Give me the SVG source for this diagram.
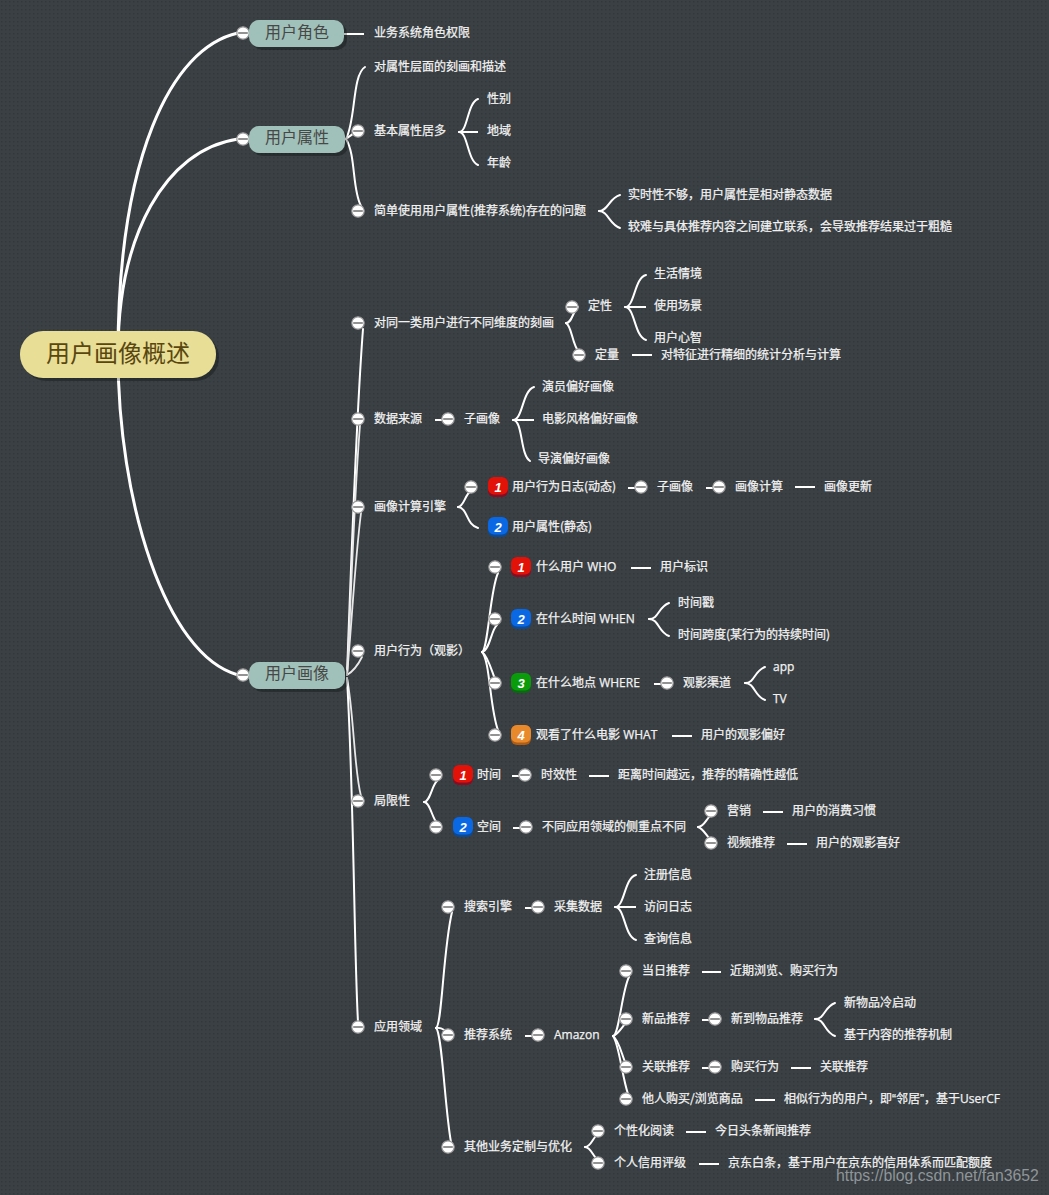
<svg xmlns="http://www.w3.org/2000/svg" xmlns:xlink="http://www.w3.org/1999/xlink" width="1049" height="1195" viewBox="0 0 1049 1195">
<style>
text{font-family:"Noto Sans CJK SC","Noto Sans",sans-serif}
.t{font-size:12px;fill:#f2f2f2;stroke:#f2f2f2;stroke-width:.25px}
.h{font-size:16px;fill:#484848}
.r{font-size:24px;fill:#5a4710}
.c{fill:none;stroke:#fff;stroke-width:2;stroke-linecap:round}
.m{fill:none;stroke:#fff;stroke-width:3;stroke-linecap:round}
.d{fill:none;stroke:#e8e8e8;stroke-width:1.8;stroke-linecap:round}
.l{fill:none;stroke:#fff;stroke-width:2}
.s{fill:#000;fill-opacity:.28}
.b1{fill:#a0c1b9}
.n{font:italic bold 13px "Liberation Sans",sans-serif;fill:#fff;text-anchor:middle}
.o{font-family:"Open Sans",sans-serif}
.q{font-family:"Liberation Sans",sans-serif}
</style>
<defs>
<pattern id="dots" width="4" height="4" patternUnits="userSpaceOnUse"><rect width="4" height="4" fill="#3a4044"/><rect x="1" y="1" width="1.5" height="1.5" fill="#32383c"/></pattern>
<g id="btn"><circle r="6.200" fill="#fff" stroke="#999" stroke-width="1.200"/><rect x="-4.800" y="-.7" width="9.600" height="1.400" fill="#666"/></g>
<g id="i1"><rect x="-10" y="-10" width="20" height="20" rx="6" fill="#8a0c22"/><rect x="-10" y="-10" width="20" height="17.500" rx="6" fill="#e21208"/><text class="n" y="5">1</text></g>
<g id="i2"><rect x="-10" y="-10" width="20" height="20" rx="6" fill="#0c4a94"/><rect x="-10" y="-10" width="20" height="17.500" rx="6" fill="#0a68e4"/><text class="n" y="5">2</text></g>
<g id="i3"><rect x="-10" y="-10" width="20" height="20" rx="6" fill="#0a6a10"/><rect x="-10" y="-10" width="20" height="17.500" rx="6" fill="#0a9c0a"/><text class="n" y="5">3</text></g>
<g id="i4"><rect x="-10" y="-10" width="20" height="20" rx="6" fill="#b05c14"/><rect x="-10" y="-10" width="20" height="17.500" rx="6" fill="#e88a2c"/><text class="n" y="5">4</text></g>
</defs>
<rect width="1049" height="1195" fill="url(#dots)"/>
<g id="connectors">
<path class="m" d="M118 354C118 160 170 48 238 33"/>
<path class="m" d="M118 354C118 235 165 150 238 139"/>
<path class="m" d="M118 354C118 500 165 655 238 675"/>
<path class="l" d="M344 34H364"/>
<path class="c" d="M346 139C356 120 352 75 365 67"/>
<path class="c" d="M346 139C350 136 352 134 358 131"/>
<path class="c" d="M346 139C356 155 352 190 361 206"/>
<path class="c" d="M459 132C468 132 467 103 478 99"/><path class="l" d="M459 132H478"/><path class="c" d="M459 132C468 132 467 160 478 165"/>
<path class="c" d="M599 211C608 211 609 198 620 195"/><path class="c" d="M599 211C608 211 609 224 620 228"/>
<path class="c" d="M347 675C352 540 356 420 363 329"/>
<path class="d" d="M347 675C351 600 354 500 360 425"/>
<path class="d" d="M347 675C352 620 355 560 361 513"/>
<path class="d" d="M347 675C352 672 358 665 362 657"/>
<path class="d" d="M347 678C354 715 354 770 361 796"/>
<path class="c" d="M347 678C354 800 354 950 358 1022"/>
<path class="c" d="M566 323C572 323 572 313 578 307"/><path class="c" d="M566 323C572 326 572 345 579 352"/>
<path class="c" d="M625 307C635 307 634 278 646 275"/><path class="l" d="M625 307H646"/><path class="c" d="M625 307C635 307 634 336 646 340"/>
<path class="l" d="M632 355H652"/>
<path class="l" d="M435 420H443"/>
<path class="c" d="M513 420C523 420 522 391 534 387"/><path class="l" d="M513 420H534"/><path class="c" d="M513 420C523 420 520 455 530 461"/>
<path class="c" d="M458 507C464 507 465 494 471 491"/><path class="c" d="M458 507C468 508 466 525 478 528"/>
<path class="l" d="M628 488H636M706 488H713M795 487H815"/>
<path class="c" d="M482 652C488 650 490 590 498 573"/>
<path class="c" d="M482 652C490 650 491 630 497 625"/>
<path class="c" d="M482 652C488 656 492 672 495 679"/>
<path class="c" d="M482 652C490 660 490 710 498 730"/>
<path class="l" d="M631 568H651"/>
<path class="c" d="M649 619C659 619 658 607 669 603"/><path class="c" d="M649 619C659 619 658 632 669 636"/>
<path class="l" d="M654 684H662"/>
<path class="c" d="M745 683C755 683 754 671 765 667"/><path class="c" d="M745 683C755 683 754 696 765 700"/>
<path class="l" d="M672 736H692"/>
<path class="c" d="M424 802C430 802 432 785 437 781"/><path class="c" d="M424 802C430 802 432 818 437 823"/>
<path class="l" d="M512 776H520M589 776H609M513 828H521"/>
<path class="c" d="M698 827C704 827 706 819 711 815"/><path class="c" d="M698 827C704 829 706 836 711 840"/>
<path class="l" d="M763 812H783M787 844H807"/>
<path class="c" d="M436 1028C442 1026 443 950 452 912"/>
<path class="c" d="M436 1028C441 1027 444 1030 448 1032"/>
<path class="c" d="M436 1028C442 1032 445 1110 451 1142"/>
<path class="l" d="M525 908H533"/>
<path class="c" d="M615 907C625 907 624 878 636 875"/><path class="l" d="M615 907H636"/><path class="c" d="M615 907C625 907 624 936 636 940"/>
<path class="l" d="M525 1036H533"/>
<path class="c" d="M613 1036C619 1036 622 990 629 977"/>
<path class="c" d="M613 1036C619 1034 622 1026 627 1022"/>
<path class="c" d="M613 1036C619 1040 622 1056 626 1064"/>
<path class="c" d="M613 1036C619 1044 622 1076 628 1094"/>
<path class="l" d="M702 972H721M702 1020H710M702 1068H710M791 1068H811M755 1100H775"/>
<path class="c" d="M815 1019C825 1019 824 1007 835 1003"/><path class="c" d="M815 1019C825 1019 824 1032 835 1036"/>
<path class="c" d="M585 1147C591 1147 593 1137 598 1134"/><path class="c" d="M585 1147C591 1147 593 1157 598 1160"/>
<path class="l" d="M686 1132H706M699 1164H719"/>
</g>
<g id="root"><rect class="s" x="23" y="334" width="196" height="47" rx="23"/><rect x="20" y="331" width="196" height="47" rx="23" fill="#e8de96"/><text class="r" x="46" y="362">用户画像概述</text></g>
<g id="h1"><use href="#btn" x="243" y="33"/><rect class="s" x="252" y="23" width="95" height="27" rx="10"/><rect class="b1" x="249" y="20" width="95" height="27" rx="10"/><text class="h" x="265" y="38">用户角色</text></g>
<g id="h2"><use href="#btn" x="243" y="139"/><rect class="s" x="252" y="129" width="96" height="27" rx="10"/><rect class="b1" x="249" y="126" width="96" height="27" rx="10"/><text class="h" x="265" y="143">用户属性</text></g>
<g id="h3"><use href="#btn" x="243" y="675"/><rect class="s" x="252" y="665" width="96" height="27" rx="10"/><rect class="b1" x="249" y="662" width="96" height="27" rx="10"/><text class="h" x="265" y="679">用户画像</text></g>
<g id="n1"><text class="t" x="374" y="37">业务系统角色权限</text></g>
<g id="n2"><text class="t" x="374" y="71">对属性层面的刻画和描述</text></g>
<g id="n3"><use href="#btn" x="358" y="131"/><text class="t" x="374" y="135">基本属性居多</text></g>
<g id="n4"><text class="t" x="487" y="103">性别</text></g>
<g id="n5"><text class="t" x="487" y="135">地域</text></g>
<g id="n6"><text class="t" x="487" y="167">年龄</text></g>
<g id="n7"><use href="#btn" x="358" y="211"/><text class="t" x="374" y="215">简单使用用户属性(推荐系统)存在的问题</text></g>
<g id="n8"><text class="t" x="628" y="199">实时性不够，用户属性是相对静态数据</text></g>
<g id="n9"><text class="t" x="628" y="231">较难与具体推荐内容之间建立联系，会导致推荐结果过于粗糙</text></g>
<g id="n10"><use href="#btn" x="358" y="323"/><text class="t" x="374" y="327">对同一类用户进行不同维度的刻画</text></g>
<g id="n11"><use href="#btn" x="572" y="307"/><text class="t" x="588" y="310">定性</text></g>
<g id="n12"><text class="t" x="654" y="278">生活情境</text></g>
<g id="n13"><text class="t" x="654" y="310">使用场景</text></g>
<g id="n14"><text class="t" x="654" y="342">用户心智</text></g>
<g id="n15"><use href="#btn" x="579" y="355"/><text class="t" x="595" y="359">定量</text></g>
<g id="n16"><text class="t" x="661" y="359">对特征进行精细的统计分析与计算</text></g>
<g id="n17"><use href="#btn" x="358" y="419"/><text class="t" x="374" y="423">数据来源</text></g>
<g id="n18"><use href="#btn" x="448" y="419"/><text class="t" x="464" y="423">子画像</text></g>
<g id="n19"><text class="t" x="542" y="391">演员偏好画像</text></g>
<g id="n20"><text class="t" x="542" y="423">电影风格偏好画像</text></g>
<g id="n21"><text class="t" x="538" y="463">导演偏好画像</text></g>
<g id="n22"><use href="#btn" x="358" y="507"/><text class="t" x="374" y="511">画像计算引擎</text></g>
<g id="n23"><use href="#btn" x="471" y="487"/><use href="#i1" x="498" y="487"/><text class="t" x="512" y="491">用户行为日志(动态)</text></g>
<g id="n24"><use href="#btn" x="641" y="487"/><text class="t" x="657" y="491">子画像</text></g>
<g id="n25"><use href="#btn" x="719" y="487"/><text class="t" x="735" y="491">画像计算</text></g>
<g id="n26"><text class="t" x="824" y="491">画像更新</text></g>
<g id="n27"><use href="#i2" x="498" y="527"/><text class="t" x="512" y="531">用户属性(静态)</text></g>
<g id="n28"><use href="#btn" x="358" y="651"/><text class="t" x="374" y="655">用户行为（观影）</text></g>
<g id="n29"><use href="#btn" x="495" y="567"/><use href="#i1" x="521" y="567"/><text class="t" x="536" y="571">什么用户<tspan class="o"> WHO</tspan></text></g>
<g id="n30"><text class="t" x="660" y="571">用户标识</text></g>
<g id="n31"><use href="#btn" x="495" y="619"/><use href="#i2" x="521" y="619"/><text class="t" x="536" y="623">在什么时间<tspan class="o"> WHEN</tspan></text></g>
<g id="n32"><text class="t" x="678" y="607">时间戳</text></g>
<g id="n33"><text class="t" x="678" y="639">时间跨度(某行为的持续时间)</text></g>
<g id="n34"><use href="#btn" x="495" y="683"/><use href="#i3" x="521" y="683"/><text class="t" x="536" y="687">在什么地点<tspan class="o"> WHERE</tspan></text></g>
<g id="n35"><use href="#btn" x="667" y="683"/><text class="t" x="683" y="687">观影渠道</text></g>
<g id="n36"><text class="t o" x="773" y="671">app</text></g>
<g id="n37"><text class="t o" x="773" y="703">TV</text></g>
<g id="n38"><use href="#btn" x="495" y="735"/><use href="#i4" x="521" y="735"/><text class="t" x="536" y="739">观看了什么电影<tspan class="o"> WHAT</tspan></text></g>
<g id="n39"><text class="t" x="701" y="739">用户的观影偏好</text></g>
<g id="n40"><use href="#btn" x="358" y="801"/><text class="t" x="374" y="805">局限性</text></g>
<g id="n41"><use href="#btn" x="436" y="775"/><use href="#i1" x="463" y="775"/><text class="t" x="477" y="779">时间</text></g>
<g id="n42"><use href="#btn" x="525" y="775"/><text class="t" x="541" y="779">时效性</text></g>
<g id="n43"><text class="t" x="618" y="779">距离时间越远，推荐的精确性越低</text></g>
<g id="n44"><use href="#btn" x="436" y="827"/><use href="#i2" x="463" y="827"/><text class="t" x="477" y="831">空间</text></g>
<g id="n45"><use href="#btn" x="526" y="827"/><text class="t" x="542" y="831">不同应用领域的侧重点不同</text></g>
<g id="n46"><use href="#btn" x="711" y="811"/><text class="t" x="727" y="815">营销</text></g>
<g id="n47"><text class="t" x="792" y="815">用户的消费习惯</text></g>
<g id="n48"><use href="#btn" x="711" y="843"/><text class="t" x="727" y="847">视频推荐</text></g>
<g id="n49"><text class="t" x="816" y="847">用户的观影喜好</text></g>
<g id="n50"><use href="#btn" x="358" y="1027"/><text class="t" x="374" y="1031">应用领域</text></g>
<g id="n51"><use href="#btn" x="448" y="907"/><text class="t" x="464" y="911">搜索引擎</text></g>
<g id="n52"><use href="#btn" x="538" y="907"/><text class="t" x="554" y="911">采集数据</text></g>
<g id="n53"><text class="t" x="644" y="879">注册信息</text></g>
<g id="n54"><text class="t" x="644" y="911">访问日志</text></g>
<g id="n55"><text class="t" x="644" y="943">查询信息</text></g>
<g id="n56"><use href="#btn" x="448" y="1035"/><text class="t" x="464" y="1039">推荐系统</text></g>
<g id="n57"><use href="#btn" x="538" y="1035"/><text class="t o" x="554" y="1039">Amazon</text></g>
<g id="n58"><use href="#btn" x="626" y="971"/><text class="t" x="642" y="975">当日推荐</text></g>
<g id="n59"><text class="t" x="730" y="975">近期浏览、购买行为</text></g>
<g id="n60"><use href="#btn" x="626" y="1019"/><text class="t" x="642" y="1023">新品推荐</text></g>
<g id="n61"><use href="#btn" x="715" y="1019"/><text class="t" x="731" y="1023">新到物品推荐</text></g>
<g id="n62"><text class="t" x="844" y="1007">新物品冷启动</text></g>
<g id="n63"><text class="t" x="844" y="1039">基于内容的推荐机制</text></g>
<g id="n64"><use href="#btn" x="626" y="1067"/><text class="t" x="642" y="1071">关联推荐</text></g>
<g id="n65"><use href="#btn" x="715" y="1067"/><text class="t" x="731" y="1071">购买行为</text></g>
<g id="n66"><text class="t" x="820" y="1071">关联推荐</text></g>
<g id="n67"><use href="#btn" x="626" y="1099"/><text class="t" x="642" y="1103">他人购买/浏览商品</text></g>
<g id="n68"><text class="t" x="784" y="1103">相似行为的用户，即<tspan class="q">“</tspan>邻居<tspan class="q">”</tspan>，基于<tspan class="o">UserCF</tspan></text></g>
<g id="n69"><use href="#btn" x="448" y="1147"/><text class="t" x="464" y="1151">其他业务定制与优化</text></g>
<g id="n70"><use href="#btn" x="598" y="1131"/><text class="t" x="614" y="1135">个性化阅读</text></g>
<g id="n71"><text class="t" x="715" y="1135">今日头条新闻推荐</text></g>
<g id="n72"><use href="#btn" x="598" y="1163"/><text class="t" x="614" y="1167">个人信用评级</text></g>
<g id="n73"><text class="t" x="728" y="1167">京东白条，基于用户在京东的信用体系而匹配额度</text></g>
<text id="watermark" x="836" y="1181" font-size="15.800" fill="#8f9598" style="font-family:'Liberation Sans',sans-serif">https://blog.csdn.net/fan3652</text>
</svg>
